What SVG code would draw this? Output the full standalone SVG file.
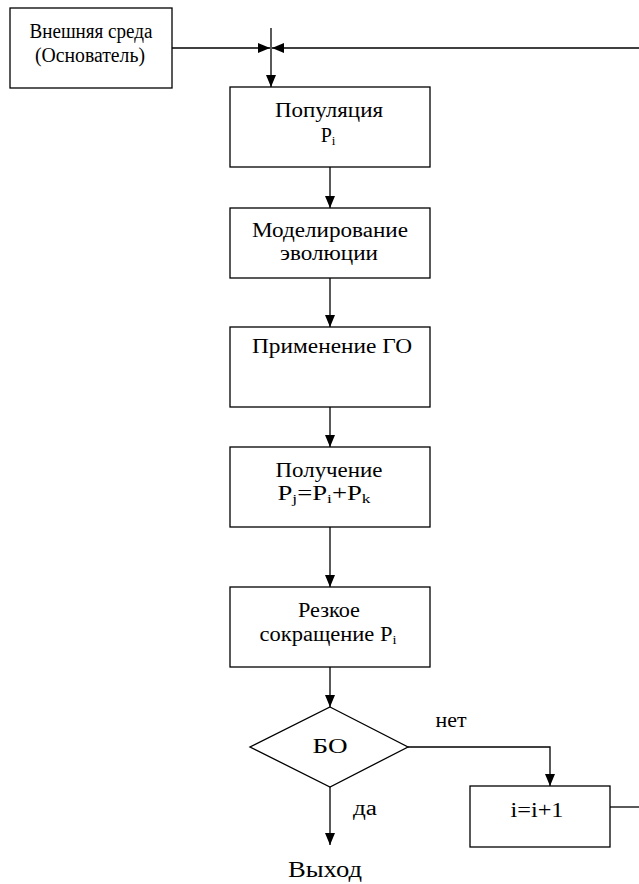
<svg xmlns="http://www.w3.org/2000/svg" width="639" height="884" viewBox="0 0 639 884">
<defs>
<marker id="ah" markerWidth="12" markerHeight="10" refX="12" refY="5" orient="auto" markerUnits="userSpaceOnUse">
<path d="M0,0 L12,5 L0,10 Z" fill="#000"/>
</marker>
<style>
rect,polygon{fill:#fff;stroke:#000;stroke-width:1.3}
.c line,.c polyline{stroke:#000;stroke-width:1.3;fill:none}
text{font-family:"Liberation Serif","Times New Roman",serif;font-size:20px;fill:#000;text-anchor:middle}
.sub{font-size:13px}
</style>
</defs>
<rect width="639" height="884" fill="#fff" style="stroke:none"/>
<g class="c" id="connectors">
<line x1="172" y1="48" x2="270" y2="48" marker-end="url(#ah)"/>
<line x1="639" y1="48" x2="272" y2="48" marker-end="url(#ah)"/>
<line x1="271" y1="28" x2="271" y2="87" marker-end="url(#ah)"/>
<line x1="330" y1="167" x2="330" y2="208" marker-end="url(#ah)"/>
<line x1="330" y1="278" x2="330" y2="327" marker-end="url(#ah)"/>
<line x1="330" y1="407" x2="330" y2="447" marker-end="url(#ah)"/>
<line x1="330" y1="527" x2="330" y2="587" marker-end="url(#ah)"/>
<line x1="330" y1="667" x2="330" y2="707" marker-end="url(#ah)"/>
<polyline points="408,747 550,747 550,786" marker-end="url(#ah)"/>
<line x1="330" y1="787" x2="330" y2="845" marker-end="url(#ah)"/>
<line x1="610" y1="807" x2="639" y2="807"/>
</g>
<g id="env">
<rect x="10" y="8" width="162" height="80"/>
<text x="91" y="38" textLength="123" lengthAdjust="spacingAndGlyphs">Внешняя среда</text>
<text x="90" y="62" textLength="110" lengthAdjust="spacingAndGlyphs">(Основатель)</text>
</g>
<g id="population">
<rect x="230" y="87" width="200" height="80"/>
<text x="329" y="117" textLength="108" lengthAdjust="spacingAndGlyphs">Популяция</text>
<text x="328" y="142">P<tspan class="sub" dy="3">i</tspan></text>
</g>
<g id="modeling">
<rect x="230" y="208" width="200" height="70"/>
<text x="330" y="237" textLength="156" lengthAdjust="spacingAndGlyphs">Моделирование</text>
<text x="329" y="260" textLength="98" lengthAdjust="spacingAndGlyphs">эволюции</text>
</g>
<g id="go">
<rect x="230" y="327" width="200" height="80"/>
<text x="332" y="353" textLength="160" lengthAdjust="spacingAndGlyphs">Применение ГО</text>
</g>
<g id="obtain">
<rect x="230" y="447" width="200" height="80"/>
<text x="329" y="477" textLength="107" lengthAdjust="spacingAndGlyphs">Получение</text>
<text x="324" y="500" textLength="93" lengthAdjust="spacingAndGlyphs">P<tspan class="sub" dy="3">j</tspan><tspan dy="-3">=P</tspan><tspan class="sub" dy="3">i</tspan><tspan dy="-3">+P</tspan><tspan class="sub" dy="3">k</tspan></text>
</g>
<g id="reduce">
<rect x="230" y="587" width="200" height="80"/>
<text x="329" y="617" textLength="62" lengthAdjust="spacingAndGlyphs">Резкое</text>
<text x="328" y="641" textLength="137" lengthAdjust="spacingAndGlyphs">сокращение P<tspan class="sub" dy="3">i</tspan></text>
</g>
<g id="bo">
<polygon points="330,707 408,747 330,787 250,747"/>
<text x="330" y="753" textLength="35" lengthAdjust="spacingAndGlyphs">БО</text>
</g>
<g id="inc">
<rect x="470" y="786" width="140" height="61"/>
<text x="537" y="817" textLength="53" lengthAdjust="spacingAndGlyphs">i=i+1</text>
</g>
<g id="labels">
<text x="451" y="727" textLength="31" lengthAdjust="spacingAndGlyphs">нет</text>
<text x="365" y="815" textLength="24" lengthAdjust="spacingAndGlyphs">да</text>
<text x="325" y="877" style="font-size:24px" textLength="74" lengthAdjust="spacingAndGlyphs">Выход</text>
</g>
</svg>
